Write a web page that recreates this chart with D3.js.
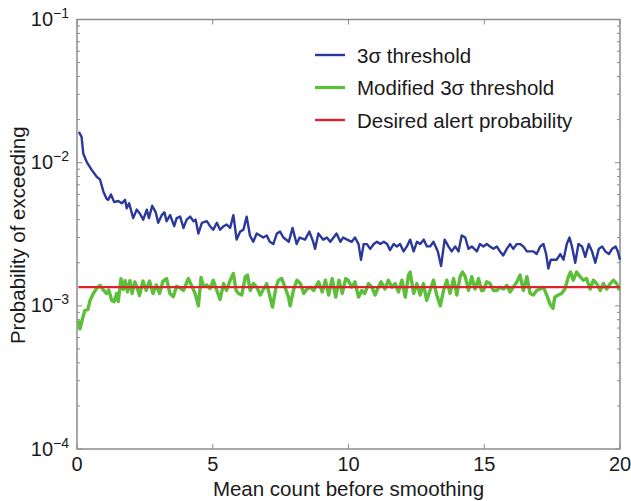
<!DOCTYPE html>
<html><head><meta charset="utf-8">
<script src="https://cdn.jsdelivr.net/npm/d3@7"></script>
<style>
body{margin:0;background:#fff}
text{font-family:"Liberation Sans",Arial,Helvetica,sans-serif;fill:#1a1a1a}
</style>
</head><body>
<svg id="c" width="631" height="501"></svg>
<script>
const blueX = [0.07,0.17,0.23,0.36,0.54,0.72,0.85,0.97,1.09,1.15,1.25,1.37,1.52,1.65,1.77,1.83,1.92,2.07,2.2,2.32,2.44,2.57,2.65,2.77,2.9,2.99,3.12,3.22,3.3,3.43,3.58,3.67,3.8,3.92,4.04,4.17,4.29,4.37,4.47,4.6,4.78,4.9,5.02,5.15,5.27,5.4,5.51,5.64,5.76,5.88,6.01,6.13,6.25,6.37,6.49,6.62,6.74,6.86,6.99,7.1,7.23,7.36,7.48,7.6,7.8,7.94,8.09,8.2,8.4,8.56,8.7,8.77,8.89,9.07,9.2,9.33,9.45,9.56,9.7,9.8,9.95,10.12,10.24,10.37,10.46,10.56,10.68,10.8,10.93,11.05,11.17,11.3,11.42,11.53,11.66,11.78,11.9,12.03,12.15,12.27,12.4,12.52,12.64,12.77,12.89,13.01,13.13,13.29,13.41,13.54,13.68,13.8,13.93,14.05,14.17,14.3,14.42,14.54,14.73,14.84,14.97,15.09,15.21,15.34,15.46,15.58,15.7,15.83,15.95,16.07,16.2,16.32,16.44,16.57,16.69,16.81,16.93,17.06,17.18,17.28,17.36,17.45,17.55,17.67,17.8,17.92,18.04,18.14,18.23,18.35,18.47,18.6,18.72,18.85,18.97,19.09,19.22,19.34,19.46,19.59,19.71,19.84,19.92,20.0];
const blueP = [0.0164,0.0151,0.0116,0.0101,0.0089,0.0080,0.0076,0.0063,0.0056,0.0055,0.0060,0.0053,0.0054,0.0052,0.0055,0.0048,0.0052,0.0041,0.0047,0.0044,0.0040,0.0047,0.0041,0.0050,0.0045,0.0038,0.0043,0.0045,0.0039,0.0043,0.0036,0.0041,0.0042,0.0035,0.0040,0.0042,0.0039,0.0040,0.0032,0.0038,0.0039,0.0036,0.0034,0.0038,0.0034,0.0036,0.0037,0.0035,0.0043,0.0029,0.0033,0.0034,0.0042,0.0031,0.0028,0.0032,0.0031,0.0030,0.0031,0.0028,0.0027,0.0032,0.0033,0.0030,0.0028,0.0035,0.0027,0.0030,0.0029,0.0033,0.0028,0.0025,0.0032,0.0029,0.0030,0.0028,0.0030,0.0032,0.0028,0.0030,0.0029,0.0028,0.0030,0.0027,0.0021,0.0027,0.0027,0.0025,0.0027,0.0028,0.0027,0.0028,0.0027,0.00245,0.0027,0.0026,0.0027,0.0024,0.0026,0.0029,0.0024,0.0028,0.0027,0.0029,0.0026,0.0026,0.0028,0.0024,0.0019,0.0029,0.0026,0.0024,0.0026,0.0024,0.0031,0.0030,0.0025,0.0026,0.0024,0.0027,0.0026,0.0027,0.0026,0.0025,0.0026,0.0024,0.00225,0.0025,0.0027,0.0025,0.0027,0.0027,0.0026,0.0024,0.0024,0.0024,0.0023,0.0026,0.0027,0.0023,0.00182,0.0021,0.0021,0.0021,0.0023,0.0021,0.0027,0.0030,0.0026,0.0020,0.0027,0.0026,0.0022,0.0027,0.0024,0.0020,0.0025,0.0026,0.0024,0.0023,0.0025,0.0026,0.0024,0.0021];

const greenX = [0.05,0.11,0.2,0.29,0.4,0.48,0.6,0.72,0.85,0.97,1.09,1.17,1.28,1.37,1.46,1.52,1.62,1.7,1.77,1.86,1.95,2.03,2.13,2.22,2.3,2.43,2.55,2.67,2.8,2.92,3.04,3.17,3.3,3.42,3.55,3.67,3.8,3.92,4.1,4.23,4.35,4.47,4.57,4.65,4.78,4.9,5.02,5.15,5.27,5.4,5.51,5.64,5.76,5.86,5.95,6.07,6.2,6.28,6.38,6.5,6.62,6.75,6.87,6.99,7.11,7.2,7.33,7.42,7.54,7.66,7.79,7.85,7.97,8.1,8.23,8.35,8.47,8.6,8.72,8.82,8.9,9.03,9.15,9.27,9.4,9.53,9.65,9.77,9.9,9.99,10.12,10.24,10.37,10.49,10.6,10.74,10.86,10.98,11.1,11.2,11.34,11.47,11.6,11.72,11.84,11.97,12.09,12.21,12.27,12.4,12.52,12.64,12.76,12.88,13.0,13.13,13.25,13.38,13.5,13.62,13.74,13.87,13.99,14.11,14.2,14.3,14.42,14.54,14.66,14.79,14.9,14.97,15.09,15.21,15.34,15.46,15.58,15.71,15.83,15.95,16.07,16.2,16.32,16.44,16.57,16.69,16.81,16.93,17.06,17.18,17.3,17.43,17.53,17.6,17.73,17.85,17.97,18.1,18.18,18.28,18.4,18.53,18.65,18.77,18.9,19.02,19.14,19.27,19.39,19.51,19.64,19.76,19.88,19.98];
const greenP = [0.00079,0.00069,0.00081,0.00093,0.00094,0.00109,0.00122,0.00132,0.00139,0.00129,0.00122,0.00129,0.00109,0.00107,0.00122,0.00107,0.00155,0.00130,0.00150,0.00125,0.00150,0.00122,0.00147,0.00133,0.00118,0.00149,0.00128,0.00149,0.00122,0.00140,0.00122,0.00149,0.00155,0.00122,0.00116,0.00137,0.00133,0.00128,0.00155,0.00137,0.00122,0.00100,0.00158,0.00137,0.00140,0.00132,0.00151,0.00128,0.00111,0.00143,0.00128,0.00151,0.00168,0.00128,0.00122,0.00119,0.00160,0.00164,0.00128,0.00143,0.00135,0.00119,0.00131,0.00143,0.00115,0.00098,0.00135,0.00151,0.00155,0.00135,0.00115,0.00100,0.00128,0.00151,0.00143,0.00122,0.00131,0.00135,0.00128,0.00139,0.00147,0.00125,0.00151,0.00119,0.00155,0.00115,0.00151,0.00122,0.00155,0.00151,0.00135,0.00147,0.00115,0.00128,0.00122,0.00143,0.00135,0.00119,0.00135,0.00147,0.00131,0.00151,0.00135,0.00143,0.00125,0.00151,0.00115,0.00164,0.00172,0.00122,0.00143,0.00119,0.00143,0.00109,0.00128,0.00151,0.00119,0.00100,0.00128,0.00151,0.00122,0.00155,0.00119,0.00160,0.00172,0.00160,0.00128,0.00160,0.00131,0.00155,0.00128,0.00128,0.00147,0.00143,0.00128,0.00128,0.00135,0.00131,0.00139,0.00125,0.00135,0.00147,0.00164,0.00128,0.00160,0.00122,0.00119,0.00128,0.00131,0.00135,0.00119,0.00102,0.00096,0.00115,0.00119,0.00122,0.00131,0.00160,0.00172,0.00151,0.00172,0.00160,0.00151,0.00155,0.00131,0.00151,0.00143,0.00128,0.00143,0.00131,0.00143,0.00151,0.00143,0.00128];

const desiredP = 0.00135;
const xDomain = [0, 20];
const yDomain = [1e-4, 1e-1];
const xTicks = [0, 5, 10, 15, 20];
const yTickExps = [-4, -3, -2, -1];
const seriesNames = ["3\u03c3 threshold", "Modified 3\u03c3 threshold", "Desired alert probability"];
const seriesColors = ["#2a3899", "#5cbf3a", "#e0212b"];
const xTitle = "Mean count before smoothing";
const yTitle = "Probability of exceeding";

const svg = d3.select("#c");
const L = 77, R = 620, T = 19.5, B = 449;
const x = d3.scaleLinear(xDomain, [L, R]);
const y = d3.scaleLog(yDomain, [B, T]);
const axisColor = "#8c8c8c";

// minor log ticks
const minor = [];
yTickExps.slice(0, -1).forEach(e => { for (let k = 2; k <= 9; k++) minor.push(k * Math.pow(10, e)); });
const major = yTickExps.map(e => Math.pow(10, e));

const gAx = svg.append("g").attr("stroke", axisColor).attr("stroke-width", 1);
[[L, 1], [R, -1]].forEach(([xx, dir]) => {
  gAx.selectAll(null).data(minor).join("line")
    .attr("x1", xx).attr("x2", xx + dir * 3)
    .attr("y1", d => y(d)).attr("y2", d => y(d));
  gAx.selectAll(null).data(major).join("line")
    .attr("x1", xx).attr("x2", xx + dir * 5)
    .attr("y1", d => y(d)).attr("y2", d => y(d));
});
[[B, -1], [T, 1]].forEach(([yy, dir]) => {
  gAx.selectAll(null).data(xTicks).join("line")
    .attr("x1", d => x(d)).attr("x2", d => x(d))
    .attr("y1", yy).attr("y2", yy + dir * 5);
});
gAx.append("rect").attr("x", L).attr("y", T).attr("width", R - L).attr("height", B - T)
  .attr("fill", "none").attr("stroke", axisColor).attr("stroke-width", 1.5);

// lines
const line = d3.line().x(d => x(d[0])).y(d => y(d[1]));
const blue = blueX.map((v, i) => [v, blueP[i]]);
const green = greenX.map((v, i) => [v, greenP[i]]);
svg.append("path").datum(green).attr("d", line).attr("fill", "none")
  .attr("stroke", seriesColors[1]).attr("stroke-width", 3.4).attr("stroke-linejoin", "round");
svg.append("path").datum(blue).attr("d", line).attr("fill", "none")
  .attr("stroke", seriesColors[0]).attr("stroke-width", 2.4).attr("stroke-linejoin", "round");
svg.append("path").datum([[xDomain[0] + 0.05, desiredP], [xDomain[1], desiredP]]).attr("d", line)
  .attr("fill", "none").attr("stroke", seriesColors[2]).attr("stroke-width", 2.2);

// y tick labels
const yl = svg.selectAll(null).data(yTickExps).join("text")
  .attr("x", 69).attr("y", d => y(Math.pow(10, d)) + 6.5)
  .attr("text-anchor", "end").attr("font-size", 20);
yl.append("tspan").text("10");
yl.append("tspan").attr("dy", -8).attr("font-size", 14).text(d => "\u2212" + Math.abs(d));

// x tick labels
svg.selectAll(null).data(xTicks).join("text")
  .attr("x", d => x(d)).attr("y", 471).attr("text-anchor", "middle")
  .attr("font-size", 20).text(d => d);

// titles
svg.append("text").attr("x", 348.5).attr("y", 496).attr("text-anchor", "middle")
  .attr("font-size", 20.5).text(xTitle);
svg.append("text").attr("transform", `translate(25,${(T + B) / 2 + 1}) rotate(-90)`)
  .attr("text-anchor", "middle").attr("font-size", 20.5).text(yTitle);

// legend
const lg = svg.append("g");
seriesNames.forEach((n, i) => {
  const yy = 55 + i * 32.5;
  lg.append("line").attr("x1", 315).attr("x2", 345).attr("y1", yy).attr("y2", yy)
    .attr("stroke", seriesColors[i]).attr("stroke-width", i === 1 ? 3.2 : 2.4);
  lg.append("text").attr("x", 357).attr("y", yy + 7.5).attr("font-size", 20.5).text(n);
});
</script>
</body></html>
